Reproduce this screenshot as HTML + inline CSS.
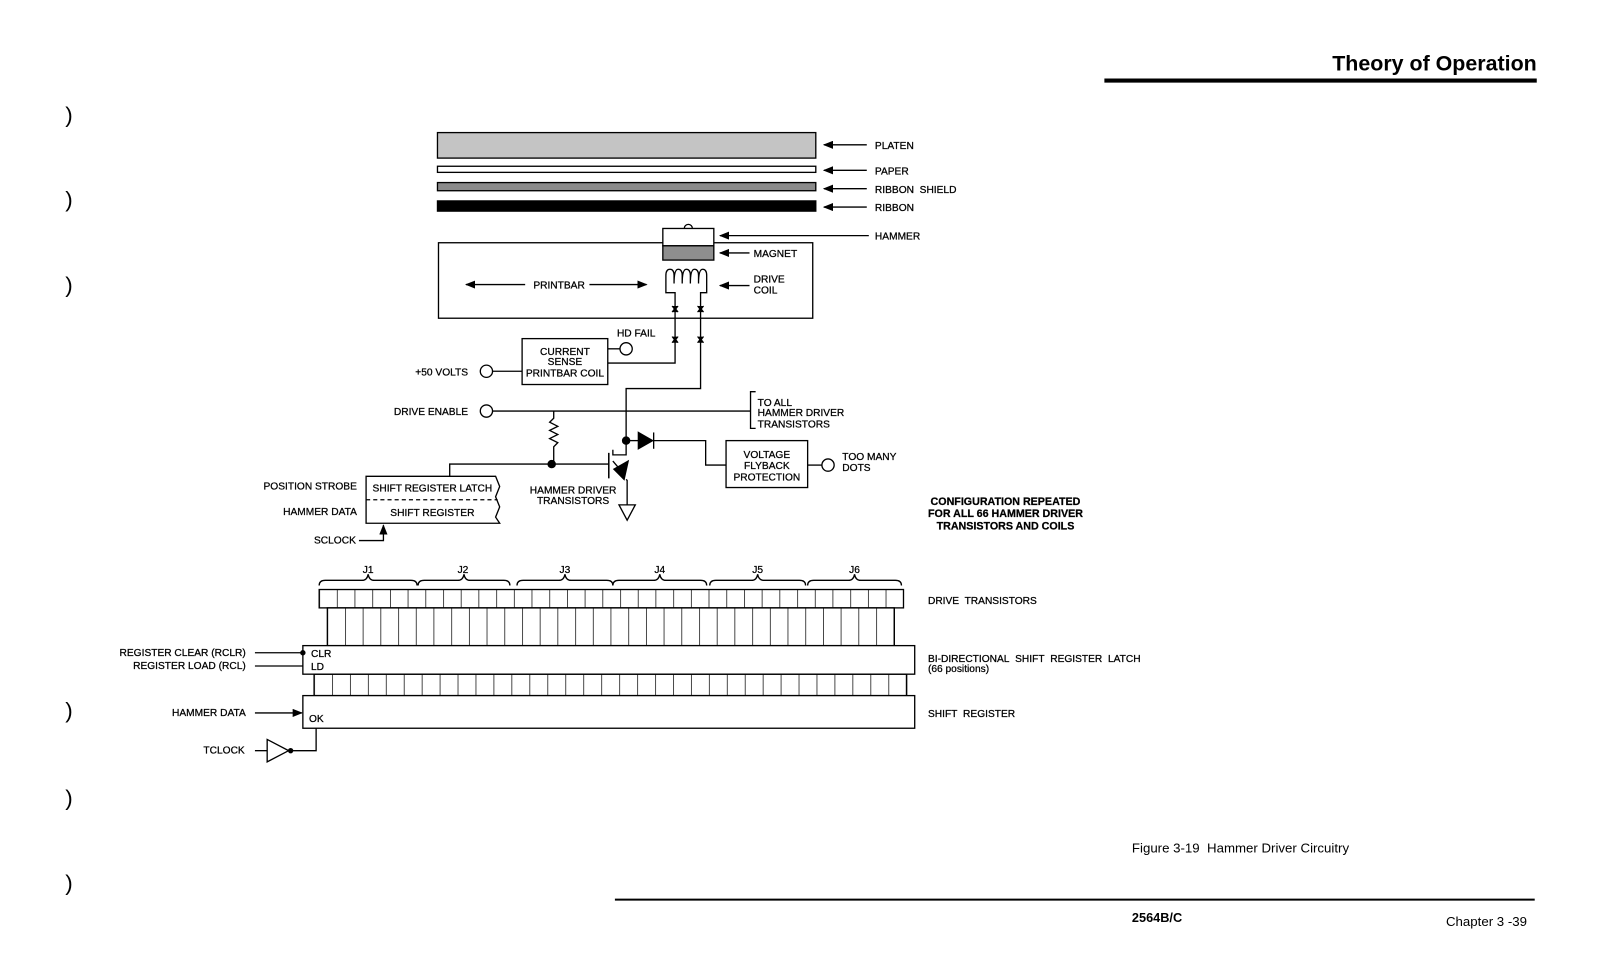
<!DOCTYPE html>
<html><head><meta charset="utf-8"><style>
html,body{margin:0;padding:0;background:#fff;}
svg{display:block;}
text{font-family:"Liberation Sans",Arial,sans-serif;fill:#000;}
.l{font-size:10px;stroke:#000;stroke-width:0.25px;}
</style></head><body>
<svg width="1601" height="972" viewBox="0 0 1570 953" preserveAspectRatio="none" xmlns="http://www.w3.org/2000/svg">
<defs>
<pattern id="p1" patternUnits="userSpaceOnUse" x="313" y="0" width="17.36" height="10"><line x1="0" y1="0" x2="0" y2="10" stroke="#000" stroke-width="1.4"/></pattern>
<pattern id="p2" patternUnits="userSpaceOnUse" x="321" y="0" width="17.36" height="10"><line x1="0" y1="0" x2="0" y2="10" stroke="#000" stroke-width="1.4"/></pattern>
<pattern id="p3" patternUnits="userSpaceOnUse" x="308" y="0" width="17.6" height="10"><line x1="0" y1="0" x2="0" y2="10" stroke="#000" stroke-width="1.4"/></pattern>
<marker id="ah" markerWidth="10" markerHeight="8" refX="9" refY="4" orient="auto" markerUnits="userSpaceOnUse"><path d="M0,0 L10,4 L0,8 Z" fill="#000"/></marker>
</defs>
<g stroke="#000" fill="none" stroke-width="1.3">
<line x1="1083" y1="79" x2="1507" y2="79" stroke-width="4"/>
<line x1="603" y1="882" x2="1505" y2="882" stroke-width="2"/>
<rect x="429" y="130" width="371" height="25" fill="#c4c4c4"/>
<rect x="429" y="163" width="371" height="6" fill="#fff"/>
<rect x="429" y="179" width="371" height="8" fill="#8a8a8a"/>
<rect x="429" y="197" width="371" height="10" fill="#000"/>
<line x1="850" y1="142" x2="808" y2="142" marker-end="url(#ah)"/>
<line x1="850" y1="167" x2="808" y2="167" marker-end="url(#ah)"/>
<line x1="850" y1="185" x2="808" y2="185" marker-end="url(#ah)"/>
<line x1="850" y1="203" x2="808" y2="203" marker-end="url(#ah)"/>
<line x1="852" y1="231" x2="706" y2="231" marker-end="url(#ah)"/>
<line x1="735" y1="248" x2="706" y2="248" marker-end="url(#ah)"/>
<line x1="735" y1="280" x2="706" y2="280" marker-end="url(#ah)"/>
<rect x="430" y="238" width="367" height="74"/>
<rect x="650" y="224" width="50" height="17" fill="#fff"/>
<path d="M671,224 a4,4 0 0 1 8,0"/>
<rect x="650" y="241" width="50" height="14" fill="#8e8e8e"/>
<line x1="515" y1="279" x2="457" y2="279" marker-end="url(#ah)"/>
<line x1="578" y1="279" x2="634" y2="279" marker-end="url(#ah)"/>
<path d="M662,300 V287 H653 V270 q0,-6 4,-6 q4,0 4,6 v8 q0,-14 4,-14 q4,0 4,6 v8 q0,-14 4,-14 q4,0 4,6 v8 q0,-14 4,-14 q4,0 4,6 v8 q0,-14 4,-14 q4,0 4,6 V287 H687 V300"/>
<path d="M662,300 V356 H596 M687,300 V381 H614 V432"/>
<g fill="#000" stroke-width="1"><path d="M659,300 l3,4 l3,-4 M659,306 l3,-4 l3,4"/><path d="M684,300 l3,4 l3,-4 M684,306 l3,-4 l3,4"/><path d="M659,330 l3,4 l3,-4 M659,336 l3,-4 l3,4"/><path d="M684,330 l3,4 l3,-4 M684,336 l3,-4 l3,4"/></g>
<rect x="512" y="332" width="84" height="45"/>
<line x1="596" y1="342" x2="608" y2="342"/><circle cx="614" cy="342" r="6"/>
<circle cx="477" cy="364" r="6"/><line x1="483" y1="364" x2="512" y2="364"/>
<circle cx="477" cy="403" r="6"/><line x1="483" y1="403" x2="736" y2="403"/>
<path d="M741,384 H736 V420 H741"/>
<path d="M543,403 V410 l-4,4 l8,4 l-8,4 l8,4 l-8,4 l8,4 l-4,4 V455"/>
<circle cx="541" cy="455" r="3.5" fill="#000"/>
<path d="M441,467 V455 H597"/>
<line x1="597" y1="444" x2="597" y2="469" stroke-width="1.5"/>
<path d="M601,441 V446 H614 V432"/>
<path d="M601,452 L612,465 M614,470 L615,471 V495"/>
<path d="M602,460 L616,452 L612,470 Z" fill="#000"/>
<path d="M607,495 H623 L615,510 Z"/>
<circle cx="614" cy="432" r="3.5" fill="#000"/>
<line x1="614" y1="432" x2="626" y2="432"/>
<path d="M626,424 L640,432 L626,440 Z" fill="#000"/>
<line x1="641" y1="424" x2="641" y2="440"/>
<path d="M641,432 H692 V456 H712"/>
<rect x="712" y="432" width="80" height="46"/>
<line x1="792" y1="456" x2="806" y2="456"/><circle cx="812" cy="456" r="6"/>
<path d="M359,467 H486 l4,10 l-4,10 l4,10 l-4,10 l4,6 H359 Z"/>
<line x1="359" y1="490" x2="488" y2="490" stroke-dasharray="4,3"/>
<path d="M352,530 H376 V515" marker-end="url(#ah)"/>
<path d="M313,574 q0,-5 6,-5 h36 q5,0 6,-6 q1,6 6,6 h36 q6,0 6,5"/>
<path d="M410,574 q0,-5 6,-5 h33 q5,0 6,-6 q1,6 6,6 h33 q6,0 6,5"/>
<path d="M507,574 q0,-5 6,-5 h35 q5,0 6,-6 q1,6 6,6 h35 q6,0 6,5"/>
<path d="M601,574 q0,-5 6,-5 h34 q5,0 6,-6 q1,6 6,6 h34 q6,0 6,5"/>
<path d="M696,574 q0,-5 6,-5 h35 q5,0 6,-6 q1,6 6,6 h35 q6,0 6,5"/>
<path d="M792,574 q0,-5 6,-5 h34 q5,0 6,-6 q1,6 6,6 h34 q6,0 6,5"/>
<rect x="313" y="578" width="573" height="18" fill="url(#p1)"/>
<rect x="321" y="596" width="556" height="37" fill="url(#p2)"/>
<line x1="877" y1="596" x2="877" y2="633"/>
<rect x="297" y="633" width="600" height="28" fill="#fff"/>
<rect x="308" y="661" width="581" height="21" fill="url(#p3)"/>
<line x1="889" y1="661" x2="889" y2="682"/>
<rect x="297" y="682" width="600" height="32" fill="#fff"/>
<line x1="250" y1="640" x2="297" y2="640"/><circle cx="297" cy="640" r="2" fill="#000"/>
<line x1="250" y1="653" x2="297" y2="653"/>
<line x1="250" y1="699" x2="296" y2="699" marker-end="url(#ah)"/>
<line x1="250" y1="736" x2="262" y2="736"/>
<path d="M262,725 L283,736 L262,747 Z"/>
<circle cx="285" cy="736" r="2" fill="#000"/>
<path d="M285,736 H310 V714"/>
</g>
<g class="l">
<text x="858" y="146">PLATEN</text>
<text x="858" y="171">PAPER</text>
<text x="858" y="189">RIBBON&#160; SHIELD</text>
<text x="858" y="207">RIBBON</text>
<text x="858" y="235">HAMMER</text>
<text x="739" y="252">MAGNET</text>
<text x="739" y="277">DRIVE</text>
<text x="739" y="288">COIL</text>
<text x="523" y="283">PRINTBAR</text>
<text x="605" y="330">HD FAIL</text>
<text x="554" y="348" text-anchor="middle">CURRENT</text>
<text x="554" y="358" text-anchor="middle">SENSE</text>
<text x="554" y="369" text-anchor="middle">PRINTBAR COIL</text>
<text x="459" y="368" text-anchor="end">+50 VOLTS</text>
<text x="459" y="407" text-anchor="end">DRIVE ENABLE</text>
<text x="743" y="398">TO ALL</text>
<text x="743" y="408">HAMMER DRIVER</text>
<text x="743" y="419">TRANSISTORS</text>
<text x="752" y="449" text-anchor="middle">VOLTAGE</text>
<text x="752" y="460" text-anchor="middle">FLYBACK</text>
<text x="752" y="471" text-anchor="middle">PROTECTION</text>
<text x="826" y="451">TOO MANY</text>
<text x="826" y="462">DOTS</text>
<text x="562" y="484" text-anchor="middle">HAMMER DRIVER</text>
<text x="562" y="494" text-anchor="middle">TRANSISTORS</text>
<text x="424" y="482" text-anchor="middle">SHIFT REGISTER LATCH</text>
<text x="424" y="506" text-anchor="middle">SHIFT REGISTER</text>
<text x="350" y="480" text-anchor="end">POSITION STROBE</text>
<text x="350" y="505" text-anchor="end">HAMMER DATA</text>
<text x="349" y="533" text-anchor="end">SCLOCK</text>
<g font-weight="bold" font-size="10.5"><text x="986" y="495" text-anchor="middle">CONFIGURATION REPEATED</text>
<text x="986" y="507" text-anchor="middle">FOR ALL 66 HAMMER DRIVER</text>
<text x="986" y="519" text-anchor="middle">TRANSISTORS AND COILS</text></g>
<text x="361" y="562" text-anchor="middle">J1</text>
<text x="454" y="562" text-anchor="middle">J2</text>
<text x="554" y="562" text-anchor="middle">J3</text>
<text x="647" y="562" text-anchor="middle">J4</text>
<text x="743" y="562" text-anchor="middle">J5</text>
<text x="838" y="562" text-anchor="middle">J6</text>
<text x="305" y="644">CLR</text>
<text x="305" y="657">LD</text>
<text x="303" y="708">OK</text>
<text x="241" y="643" text-anchor="end">REGISTER CLEAR (RCLR)</text>
<text x="241" y="656" text-anchor="end">REGISTER LOAD (RCL)</text>
<text x="241" y="702" text-anchor="end">HAMMER DATA</text>
<text x="240" y="739" text-anchor="end">TCLOCK</text>
<text x="910" y="592">DRIVE&#160; TRANSISTORS</text>
<text x="910" y="649">BI-DIRECTIONAL&#160; SHIFT&#160; REGISTER&#160; LATCH</text>
<text x="910" y="659">(66 positions)</text>
<text x="910" y="703">SHIFT&#160; REGISTER</text>
</g>
<text x="1507" y="69" text-anchor="end" font-size="21" font-weight="bold">Theory of Operation</text>
<text x="1110" y="836" font-size="13">Figure 3-19&#160; Hammer Driver Circuitry</text>
<text x="1110" y="904" font-size="12.5" font-weight="bold">2564B/C</text>
<text x="1418" y="908" font-size="13">Chapter 3 -39</text>
<g font-size="22"><text x="64" y="120">)</text><text x="64" y="203">)</text><text x="64" y="287">)</text><text x="64" y="704">)</text><text x="64" y="790">)</text><text x="64" y="873">)</text></g>
</svg>
</body></html>
